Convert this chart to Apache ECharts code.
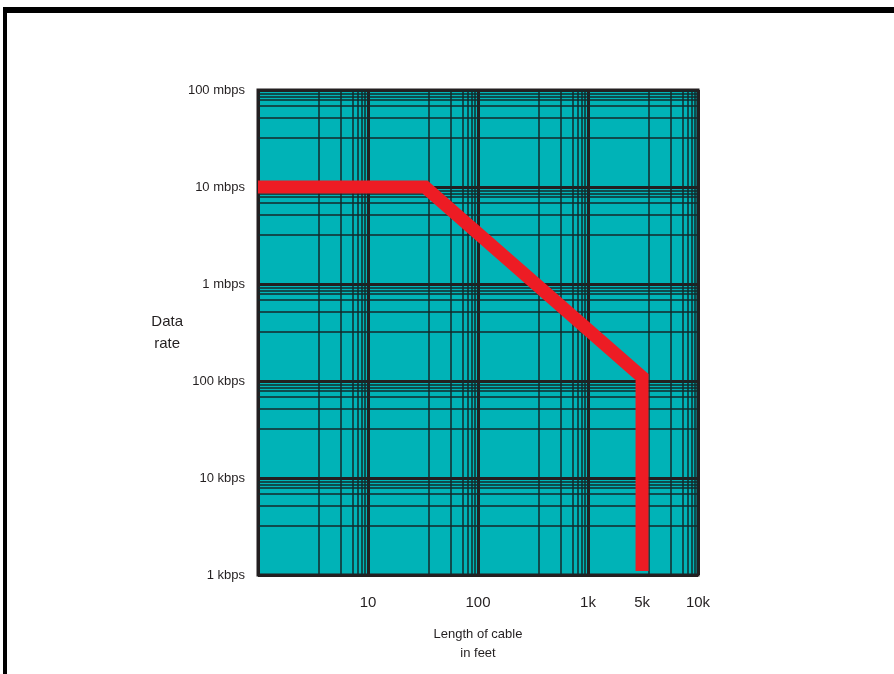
<!DOCTYPE html>
<html>
<head>
<meta charset="utf-8">
<script src="https://cdn.jsdelivr.net/npm/echarts@6/dist/echarts.min.js"></script>
<style>
html,body{margin:0;padding:0;background:#fff;}
#chart{width:894px;height:674px;}
</style>
</head>
<body>
<div id="chart"></div>
<script>
// cable length (ft) vs data rate (bps)
var lengthFt=[1,33,3100,3100];
var rateBps=[1e7,1e7,1.1e5,1.1e3];

// tick labels
var xTickValues=[10,100,1000,3100,10000];
var xTickLabels=['10','100','1k','5k','10k'];
var yTickValues=[1e3,1e4,1e5,1e6,1e7,1e8];
var yTickLabels=['1 kbps','10 kbps','100 kbps','1 mbps','10 mbps','100 mbps'];

// minor grid steps inside each decade (as drawn)
var xMinorSteps=[3.6,5.6,7.3,8.1,8.8,9.4];
var yMinorSteps=[3.2,5.2,6.9,7.9,8.5,9.1];
var xDecades=[1,10,100,1000];
var yDecades=[1e3,1e4,1e5,1e6,1e7];

var ink='#231f20';
var font='"Liberation Sans", Arial, Helvetica, sans-serif';

var minorLines=[];
xDecades.forEach(function(d){
  xMinorSteps.forEach(function(s){minorLines.push({xAxis:d*s});});
});
yDecades.forEach(function(d){
  yMinorSteps.forEach(function(s){minorLines.push({yAxis:d*s});});
});

var chart=echarts.init(document.getElementById('chart'));
var option={
  animation:false,
  textStyle:{fontFamily:font},
  graphic:[
    {type:'rect',shape:{x:3,y:7,width:891,height:6},style:{fill:'#000'},z:100},
    {type:'rect',shape:{x:3,y:7,width:4,height:667},style:{fill:'#000'},z:100}
  ],
  grid:{
    left:258,right:196,top:90,bottom:99,
    show:true,
    backgroundColor:'#00b3b7',
    borderColor:ink,
    borderWidth:3
  },
  xAxis:{
    type:'log',
    logBase:10,
    min:1,max:10000,
    splitNumber:4,
    name:'Length of cable\nin feet',
    nameLocation:'middle',
    nameGap:50,
    nameTextStyle:{color:ink,fontSize:13,lineHeight:19,fontFamily:font},
    axisLine:{show:false},
    axisTick:{show:false},
    axisLabel:{
      customValues:xTickValues,
      color:ink,fontSize:15,margin:20,fontFamily:font,
      formatter:function(v){
        var i=xTickValues.indexOf(v);
        return i<0?'':xTickLabels[i];
      }
    },
    splitLine:{show:true,lineStyle:{color:ink,width:3}}
  },
  yAxis:{
    type:'log',
    logBase:10,
    min:1e3,max:1e8,
    splitNumber:5,
    name:'Data\nrate',
    nameLocation:'middle',
    nameRotate:0,
    nameGap:85,
    nameTextStyle:{color:ink,fontSize:15,lineHeight:22,fontFamily:font,align:'center',padding:[0,0,12,0]},
    axisLine:{show:false},
    axisTick:{show:false},
    axisLabel:{
      customValues:yTickValues,
      color:ink,fontSize:13,margin:13,fontFamily:font,
      formatter:function(v){
        var i=yTickValues.findIndex(function(t){return Math.abs(t-v)/t<1e-6;});
        return i<0?'':yTickLabels[i];
      }
    },
    splitLine:{show:true,lineStyle:{color:ink,width:3}}
  },
  series:[
    {
      name:'grid',
      type:'line',
      data:[],
      silent:true,
      z:1,
      markLine:{
        silent:true,
        symbol:['none','none'],
        label:{show:false},
        animation:false,
        lineStyle:{color:'#15292a',width:1.5,type:'solid'},
        data:minorLines
      }
    },
    {
      name:'max rate',
      type:'line',
      z:5,
      data:lengthFt.map(function(x,i){return [x,rateBps[i]];}),
      symbol:'none',
      smooth:false,
      lineStyle:{color:'#ed1c24',width:13,cap:'butt',join:'miter'}
    }
  ]
};
chart.setOption(option);
</script>
</body>
</html>
